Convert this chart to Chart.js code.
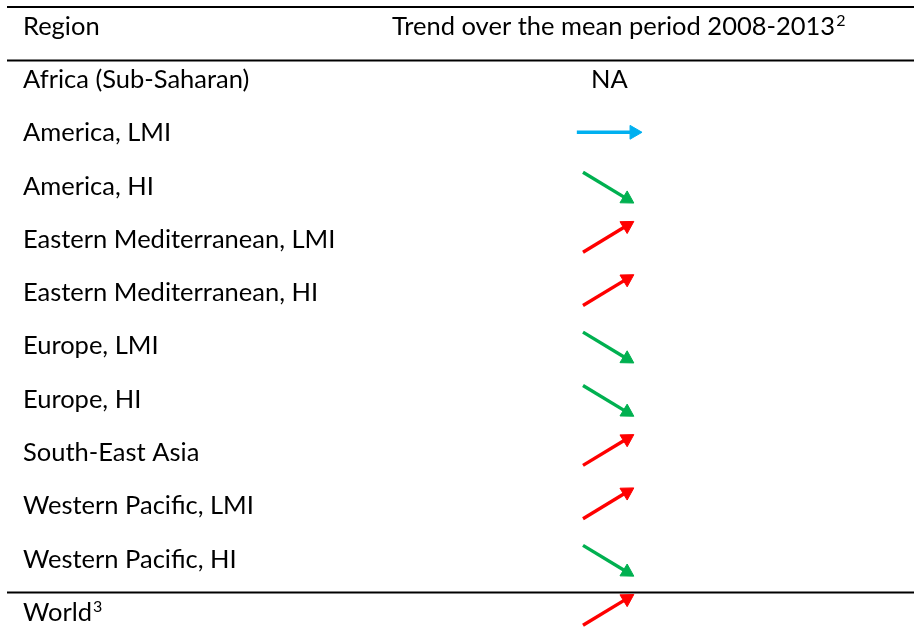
<!DOCTYPE html>
<html><head><meta charset="utf-8">
<script src="https://cdn.jsdelivr.net/npm/chart.js@4.4.0/dist/chart.umd.min.js"></script>
<style>html,body{margin:0;padding:0;background:#fff;overflow:hidden}canvas{display:block}</style>
</head><body><canvas id="c" width="914" height="643"></canvas>
<script>
// ---- data ----
const regions = [
  "Africa (Sub-Saharan)", "America, LMI", "America, HI",
  "Eastern Mediterranean, LMI", "Eastern Mediterranean, HI",
  "Europe, LMI", "Europe, HI", "South-East Asia",
  "Western Pacific, LMI", "Western Pacific, HI", "World"
];
// trend direction: 1 = increase, -1 = decrease, 0 = stable, null = not available
const trends = [null, 0, -1, 1, 1, -1, -1, 1, 1, -1, 1];
const regionSup = ["", "", "", "", "", "", "", "", "", "", "3"];
const headers = ["Region", "Trend over the mean period 2008-2013"];
const headerSup = ["", "2"];
const naLabel = "NA";

// ---- styling ----
const trendColor = { "1": "#FF0000", "-1": "#00B050", "0": "#00B0F0" };
const FONT = '"Lato", "Open Sans", sans-serif';
const FS = 25.5;
const HALF_RISE = 0.25;   // half vertical extent of a diagonal arrow, in row units

const datasets = [];
trends.forEach((t, i) => {
  if (t === null) return;
  const flat = t === 0;
  datasets.push({
    label: regions[i],
    data: [
      { x: flat ? -0.14 : 0, y: i + t * HALF_RISE },
      { x: flat ? 1.16 : 1, y: i - t * HALF_RISE }
    ],
    borderColor: trendColor[String(t)],
    backgroundColor: trendColor[String(t)],
    pointBackgroundColor: trendColor[String(t)],
    pointBorderColor: trendColor[String(t)],
    borderWidth: 3.4,
    showLine: true,
    pointStyle: 'triangle',
    pointRadius: [0, 8],
    pointBorderWidth: 1,
    pointRotation: (ctx) => {
      const ch = ctx.chart, d = ctx.dataset.data;
      const xs = ch.scales.x, ys = ch.scales.y;
      const dx = xs.getPixelForValue(d[1].x) - xs.getPixelForValue(d[0].x);
      const dy = ys.getPixelForValue(d[1].y) - ys.getPixelForValue(d[0].y);
      return Math.atan2(dx, -dy) * 180 / Math.PI;
    }
  });
});

const tablePlugin = {
  id: 'tableText',
  beforeDatasetsDraw(chart) {
    const g = chart.ctx, ys = chart.scales.y, xs = chart.scales.x;
    const W = chart.width;
    g.save();
    // rules
    g.strokeStyle = '#000';
    [[7, 2.2], [60.5, 2.2], [592.5, 1.8]].forEach(([y, lw]) => {
      g.lineWidth = lw;
      g.beginPath(); g.moveTo(7, y); g.lineTo(W, y); g.stroke();
    });
    g.fillStyle = '#000';
    g.textBaseline = 'alphabetic';
    const textWithSup = (txt, sup, x, base, align) => {
      g.font = FS + 'px ' + FONT;
      g.textAlign = 'left';
      const w = g.measureText(txt).width;
      let sx = align === 'center' ? x - w / 2 : x;
      g.fillText(txt, sx, base);
      if (sup) {
        g.font = '16px ' + FONT;
        g.fillText(sup, sx + w + 1, base - 9);
      }
    };
    // header row (row index -1)
    const hb = ys.getPixelForValue(-1) + 9;
    textWithSup(headers[0], headerSup[0], 23, hb, 'left');
    textWithSup(headers[1], headerSup[1], 392, hb, 'left');
    // body rows
    regions.forEach((r, i) => {
      const base = ys.getPixelForValue(i) + 9;
      textWithSup(r, regionSup[i], 23, base, 'left');
      if (trends[i] === null) {
        g.font = FS + 'px ' + FONT;
        g.textAlign = 'center';
        g.fillText(naLabel, xs.getPixelForValue(0.6), base);
      }
    });
    g.restore();
  }
};

new Chart(document.getElementById('c'), {
  type: 'scatter',
  data: { datasets },
  options: {
    responsive: false,
    devicePixelRatio: 1,
    animation: false,
    layout: { padding: 0, autoPadding: false },
    plugins: { legend: { display: false }, tooltip: { enabled: false } },
    scales: {
      x: { type: 'linear', display: false, min: -13.25, max: 7.523 },
      y: { type: 'linear', display: false, reverse: true, min: -1.482, max: 10.582 }
    }
  },
  plugins: [tablePlugin]
});
</script></body></html>
